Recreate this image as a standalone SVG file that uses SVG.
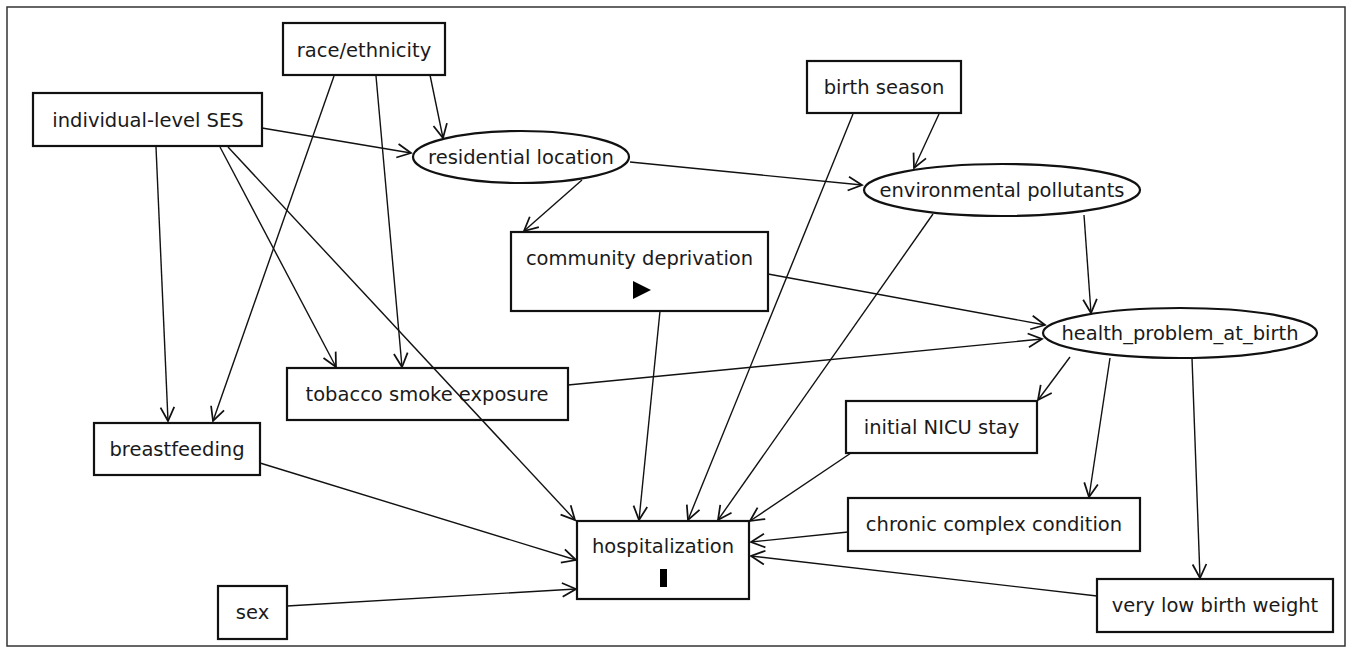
<svg xmlns="http://www.w3.org/2000/svg" width="1353" height="648" viewBox="0 0 1353 648">
<style>
.n .s { fill: #fff; stroke: #111; stroke-width: 2.2; }
.n text { font-family: "DejaVu Sans", "Liberation Sans", sans-serif; font-size: 19.5px; fill: #1a1a1a; text-anchor: middle; }
.n .mark { fill: #000; stroke: none; }
.e line { stroke: #111; stroke-width: 1.4; fill: none; marker-end: url(#arr); }
</style>
<defs>
<marker id="arr" markerUnits="userSpaceOnUse" markerWidth="20" markerHeight="20" viewBox="-12 -8 14 16" refX="0" refY="0" orient="auto">
<path d="M-11,-5.5 L0,0 L-11,5.5" fill="none" stroke="#111" stroke-width="1.4"/>
</marker>
</defs>
<rect x="7" y="7" width="1338" height="639" fill="#fff" stroke="#333" stroke-width="1.5"/>
<g class="n" id="race"><rect class="s" x="283" y="23" width="162" height="52"/><text x="364" y="56.5">race/ethnicity</text></g>
<g class="n" id="ses"><rect class="s" x="33" y="93" width="229" height="53"/><text x="148" y="126.5">individual-level SES</text></g>
<g class="n" id="residential"><ellipse class="s" cx="521" cy="157" rx="108" ry="26"/><text x="521" y="163.5">residential location</text></g>
<g class="n" id="birthseason"><rect class="s" x="807" y="61" width="154" height="52"/><text x="884" y="94">birth season</text></g>
<g class="n" id="environmental"><ellipse class="s" cx="1002" cy="190" rx="138" ry="26"/><text x="1002" y="196.5">environmental pollutants</text></g>
<g class="n" id="community"><rect class="s" x="511" y="232" width="257" height="79"/><text x="639.5" y="265">community deprivation</text><path class="mark" d="M633,281 L633,299 L651,290 Z"/></g>
<g class="n" id="health"><ellipse class="s" cx="1180" cy="333" rx="137" ry="25"/><text x="1180" y="339.5">health_problem_at_birth</text></g>
<g class="n" id="tobacco"><rect class="s" x="287" y="368" width="281" height="52"/><text x="427" y="401">tobacco smoke exposure</text></g>
<g class="n" id="breastfeeding"><rect class="s" x="94" y="423" width="166" height="52"/><text x="177" y="456">breastfeeding</text></g>
<g class="n" id="nicu"><rect class="s" x="846" y="401" width="191" height="52"/><text x="941.5" y="434">initial NICU stay</text></g>
<g class="n" id="chronic"><rect class="s" x="848" y="498" width="292" height="53"/><text x="994" y="531">chronic complex condition</text></g>
<g class="n" id="vlbw"><rect class="s" x="1097" y="579" width="236" height="53"/><text x="1215" y="612">very low birth weight</text></g>
<g class="n" id="sex"><rect class="s" x="218" y="586" width="69" height="53"/><text x="252.5" y="619">sex</text></g>
<g class="n" id="hospitalization"><rect class="s" x="577" y="521" width="172" height="78"/><text x="663" y="553">hospitalization</text><rect class="mark" x="660" y="569" width="7" height="18"/></g>
<g class="e" id="edges">
<line x1="430" y1="75" x2="443" y2="138"/>
<line x1="334" y1="76" x2="213" y2="421"/>
<line x1="376" y1="76" x2="402" y2="367"/>
<line x1="262" y1="128" x2="411" y2="153"/>
<line x1="156" y1="147" x2="168" y2="421"/>
<line x1="220" y1="147" x2="336" y2="367"/>
<line x1="228" y1="147" x2="575" y2="520"/>
<line x1="630" y1="162" x2="862" y2="185"/>
<line x1="582" y1="180" x2="524" y2="231"/>
<line x1="939" y1="114" x2="914" y2="168"/>
<line x1="853" y1="114" x2="688" y2="520"/>
<line x1="660" y1="311" x2="639" y2="520"/>
<line x1="933" y1="214" x2="718" y2="520"/>
<line x1="1084" y1="215" x2="1091" y2="313"/>
<line x1="768" y1="274" x2="1045" y2="325"/>
<line x1="568" y1="385" x2="1042" y2="339"/>
<line x1="1070" y1="357" x2="1038" y2="400"/>
<line x1="1110" y1="358" x2="1089" y2="497"/>
<line x1="1192" y1="358" x2="1200" y2="578"/>
<line x1="260" y1="463" x2="576" y2="560"/>
<line x1="287" y1="606" x2="576" y2="589"/>
<line x1="851" y1="453" x2="750" y2="521"/>
<line x1="848" y1="532" x2="751" y2="542"/>
<line x1="1097" y1="596" x2="751" y2="556"/>
</g>
</svg>
